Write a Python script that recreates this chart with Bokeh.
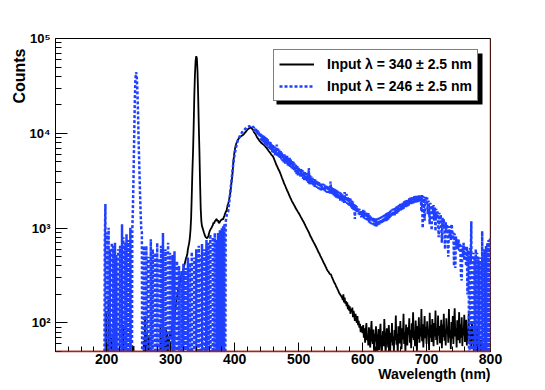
import numpy as np
from math import log10
from bokeh.plotting import figure
from bokeh.models import FixedTicker, Legend, LegendItem, Span, Title
from bokeh.embed import file_html
from bokeh.resources import INLINE

# ---------------- data (1 nm bins starting at WL_START) ----------------
WL_START = 190

black_340 = [
    1, 1, 1, 1, 1, 1, 1, 1, 1, 134,                      # 190
    1, 60, 1, 175, 1, 1, 90, 1, 70, 1,                    # 200
    1, 1, 118, 1, 1, 75, 1, 1, 1, 1,                      # 210
    1, 1, 1, 1, 1, 1, 95, 1, 1, 1,                        # 220
    1, 1, 1, 1, 1, 1, 1, 1, 1, 1,                         # 230
    1, 1, 57, 1, 1, 1, 1, 1, 1, 1,                        # 240
    1, 1, 1, 1, 1, 1, 1, 1, 65, 1,                        # 250
    118, 1, 1, 80, 1, 1, 72, 1, 1, 1,                     # 260
    1, 1, 1, 1, 1, 1, 1, 1, 1, 1,                         # 270
    1, 1, 1, 1, 98, 1, 70, 1, 1, 90,                      # 280
    1, 64, 1, 85, 1, 78, 1, 60, 70, 75,                   # 290
    82, 70, 95, 88, 110, 120, 105, 140, 150, 170,         # 300
    190, 200, 230, 220, 260, 280, 300, 320, 350, 340,     # 310
    370, 400, 420, 450, 480, 500, 530, 600, 650, 700,     # 320
    790, 950, 1280, 2200, 4000, 6400, 12000, 25000, 42000, 58000,   # 330
    65000, 62000, 45000, 25000, 12000, 6400, 3000, 1600, 1180, 1050,  # 340
    1000, 950, 900, 860, 820, 800, 790, 780, 800, 830,    # 350
    880, 930, 960, 990, 1010, 1050, 1080, 1150, 1120, 1180,  # 360
    1200, 1230, 1250, 1180, 1210, 1150, 1130, 1170, 1200, 1220,  # 370
    1230, 1250, 1230, 1300, 1350, 1420, 1480, 1510, 1600, 1750,  # 380
    1800, 1950, 2100, 2300, 2600, 3000, 3370, 4000, 5000, 5800,  # 390
    6500, 7100, 7600, 7900, 8200, 8500, 8700, 8900, 9100, 9200,  # 400
    9300, 9400, 9500, 9600, 9700, 9900, 10100, 10300, 10500, 10700,  # 410
    10900, 11100, 11200, 11300, 11400, 11500, 11400, 11200, 11000, 10800,  # 420
    10400, 10100, 10000, 9700, 9400, 9100, 8900, 8700, 8500, 8300,  # 430
    8200, 8000, 7900, 7800, 7700, 7600, 7500, 7400, 7250, 7100,  # 440
    7000, 6850, 6700, 6550, 6400, 6300, 6150, 6000, 5900, 5800,  # 450
    5700, 5500, 5300, 5100, 4900, 4700, 4550, 4400, 4250, 4100,  # 460
    4000, 3850, 3700, 3550, 3400, 3270, 3150, 3000, 2900, 2800,  # 470
    2700, 2600, 2500, 2420, 2340, 2250, 2180, 2100, 2030, 1960,  # 480
    1900, 1850, 1800, 1750, 1700, 1650, 1600, 1560, 1520, 1480,  # 490
    1450, 1410, 1370, 1330, 1290, 1260, 1220, 1190, 1160, 1120,  # 500
    1090, 1050, 1020, 990, 960, 930, 900, 870, 840, 810,  # 510
    790, 765, 740, 720, 700, 680, 660, 640, 620, 600,     # 520
    580, 560, 545, 530, 510, 495, 480, 465, 450, 435,     # 530
    420, 410, 395, 385, 370, 360, 350, 345, 335, 325,     # 540
    330, 320, 305, 295, 285, 275, 265, 260, 250, 240,     # 550
    235, 225, 220, 210, 205, 200, 195, 190, 185, 175,     # 560
    200, 165, 185, 160, 170, 150, 165, 140, 155, 135,     # 570
    150, 125, 140, 130, 145, 115, 134, 120, 105, 125,     # 580
    110, 100, 118, 95, 105, 89, 98, 80, 92, 85,           # 590
    78, 95, 70, 88, 62, 84, 100, 66, 75, 58,              # 600
    90, 72, 55, 80, 105, 68, 60, 85, 48, 77,              # 610
    64, 92, 58, 40, 70, 86, 52, 74, 98, 60,               # 620
    45, 66, 82, 57, 110, 70, 48, 62, 88, 76,              # 630
    55, 95, 68, 44, 79, 63, 100, 58, 72, 50,              # 640
    84, 66, 120, 59, 77, 46, 92, 70, 61, 105,             # 650
    74, 53, 88, 67, 125, 60, 80, 49, 96, 71,              # 660
    58, 90, 75, 112, 62, 84, 54, 99, 70, 130,             # 670
    66, 82, 57, 106, 76, 50, 93, 68, 115, 62,             # 680
    88, 72, 140, 64, 97, 55, 80, 118, 69, 91,             # 690
    60, 104, 75, 86, 52, 128, 70, 95, 63, 110,            # 700
    78, 57, 100, 72, 135, 66, 88, 59, 120, 74,            # 710
    93, 61, 81, 108, 54, 96, 71, 125, 65, 87,             # 720
    58, 112, 77, 91, 62, 140, 70, 84, 53, 102,            # 730
    68, 118, 60, 95, 143, 72, 88, 55, 107, 66,            # 740
    80, 130, 61, 97, 70, 115, 57, 89, 74, 122,            # 750
    63, 90, 108, 58, 84, 69, 126, 60, 93, 71,             # 760
    55, 100, 67, 82, 48, 95, 62, 76, 45, 88,              # 770
    58, 40, 72, 52, 35, 66, 44, 60, 30, 55,               # 780
    40, 62, 28, 50, 35, 45, 25, 38, 20, 30,               # 790
    25,                                                   # 800
]

blue_246 = [
    1, 1, 1, 1, 1, 1, 1, 700, 1800, 1,                    # 190
    1, 900, 1, 1010, 1, 600, 1, 1, 700, 1,                # 200
    650, 1, 1, 700, 1, 520, 1, 1, 600, 1,                 # 210
    1, 650, 1, 1, 1100, 1, 800, 1, 1, 700,                # 220
    1, 860, 1, 1, 750, 1, 1, 1010, 1, 1,                  # 230
    900, 1600, 3500, 9000, 22000, 38000, 44000, 40000, 28000, 16000,  # 240
    8000, 4500, 2500, 1500, 1000, 900, 1, 1, 650, 1,      # 250
    1, 1, 650, 1, 1, 500, 1, 1, 1, 765,                   # 260
    1, 1, 600, 1, 1, 1, 550, 1, 1, 700,                   # 270
    1, 1, 480, 1, 1, 650, 1, 1, 890, 1,                   # 280
    1, 1, 600, 1, 1, 1, 700, 1, 1, 550,                   # 290
    1, 1, 1, 520, 1, 1, 570, 1, 1, 1,                     # 300
    450, 1, 1, 400, 1, 1, 1, 350, 1, 1,                   # 310
    420, 1, 1, 380, 1, 1, 1, 490, 1, 1,                   # 320
    430, 1, 1, 560, 1, 1, 1, 490, 1, 1,                   # 330
    600, 1, 1, 1, 650, 1, 1, 520, 1, 680,                 # 340
    1, 1, 1, 600, 1, 1, 750, 1, 1, 700,                   # 350
    1, 1, 860, 1, 1, 1, 800, 1, 1, 890,                   # 360
    1, 1, 750, 1, 890, 1, 1, 950, 1, 1,                   # 370
    1000, 1, 1050, 1, 1100, 1, 1150, 1300, 1400, 1450,    # 380
    1500, 1750, 2000, 2300, 2700, 3100, 3600, 4200, 4800, 5400,  # 390
    6000, 6500, 7000, 7500, 8000, 8400, 8700, 9000, 9300, 9600,  # 400
    9900, 10100, 10300, 10500, 10700, 10900, 11000, 11200, 11300, 11500,  # 410
    11600, 11700, 11800, 11900, 11800, 12000, 12100, 12000, 11800, 11600,  # 420
    11600, 10500, 11400, 10200, 11200, 9800, 10900, 9500, 10400, 9300,  # 430
    10000, 8500, 9900, 8200, 9600, 8000, 9400, 7700, 9100, 7500,  # 440
    8900, 7300, 8700, 7000, 8400, 6800, 8100, 6600, 7700, 6300,   # 450
    7500, 6100, 7300, 5900, 7100, 6200, 7600, 5700, 6900, 5600,   # 460
    6700, 5500, 6500, 5300, 6300, 5100, 6100, 4900, 6000, 4800,   # 470
    5900, 4800, 5800, 4600, 5600, 4500, 5500, 4400, 5300, 4300,   # 480
    5200, 4200, 5000, 4000, 4800, 3900, 4700, 3700, 4500, 3600,   # 490
    4400, 3600, 4300, 3500, 4200, 3400, 4100, 3300, 4000, 3200,   # 500
    3900, 3200, 3800, 3100, 3700, 3000, 4300, 2900, 3600, 2900,   # 510
    3500, 2900, 3400, 2800, 3300, 2700, 3300, 2700, 3200, 2650,   # 520
    3150, 2600, 3100, 2550, 3000, 2500, 2950, 2500, 2950, 2450,   # 530
    2900, 2450, 2850, 2400, 2850, 2350, 2800, 2350, 2750, 2300,   # 540
    3100, 2300, 2700, 2250, 2650, 2200, 2600, 2150, 2550, 2100,   # 550
    2500, 2050, 2450, 2000, 2400, 1950, 2350, 1950, 2300, 1900,   # 560
    2250, 1850, 2400, 1850, 2200, 2300, 1800, 2150, 1750, 2100,   # 570
    1700, 2050, 1650, 1950, 1600, 1900, 1550, 1800, 1250, 1750,   # 580
    1500, 1700, 1450, 1650, 1400, 1600, 1350, 1550, 1300, 1500,   # 590
    1290, 1560, 1270, 1530, 1240, 1490, 1220, 1460, 1200, 1440,   # 600
    1140, 1370, 1120, 1340, 1100, 1320, 1090, 1300, 1070, 1280,   # 610
    1050, 1250, 1040, 1270, 1060, 1280, 1070, 1300, 1090, 1320,   # 620
    1110, 1340, 1130, 1370, 1150, 1400, 1170, 1430, 1200, 1460,   # 630
    1230, 1480, 1260, 1520, 1290, 1560, 1320, 1600, 1340, 1620,   # 640
    1350, 1640, 1390, 1690, 1420, 1720, 1460, 1760, 1500, 1800,   # 650
    1540, 1830, 1570, 1880, 1600, 1920, 1640, 1950, 1670, 1990,   # 660
    1700, 2020, 1730, 2060, 1760, 2100, 1790, 2130, 1810, 2150,   # 670
    1830, 2170, 1850, 2190, 1860, 2200, 1880, 2210, 1890, 2220,   # 680
    1900, 2200, 1500, 2230, 1000, 2180, 1880, 1200, 1850, 2150,   # 690
    1850, 2100, 1400, 1950, 1600, 1100, 1850, 1500, 950, 1750,    # 700
    1500, 1750, 1200, 1650, 930, 1600, 1300, 1500, 1250, 800,     # 710
    1450, 1150, 1400, 1100, 700, 1300, 1000, 1250, 950, 600,      # 720
    1150, 900, 1100, 850, 500, 1050, 820, 950, 750, 1100,         # 730
    980, 760, 900, 400, 880, 380, 820, 640, 760, 600,             # 740
    760, 580, 700, 560, 300, 280, 660, 500, 700, 460,             # 750
    650, 480, 400, 640, 200, 580, 450, 1, 620, 420,               # 760
    1180, 1, 500, 550, 1, 480, 1, 600, 1, 550,                   # 770
    1, 500, 1, 450, 1, 490, 1, 930, 1, 520,                      # 780
    1, 600, 1, 650, 1, 700, 1, 750, 1, 790,                      # 790
    700,                                                         # 800
]

x_ticks = [200, 300, 400, 500, 600, 700, 800]
y_ticks = [100, 1000, 10000, 100000]
y_tick_labels = ["10²", "10³", "10⁴", "10⁵"]
legend_labels = ["Input λ = 340 ± 2.5 nm", "Input λ = 246 ± 2.5 nm"]
x_title = "Wavelength (nm)"
y_title = "Counts"

# ---------------- styling ----------------
X0, X1 = 120, 800
Y0, Y1 = 50, 1e5
FONT = "Liberation Sans"
BLUE = "#2040ff"
FRAME_RED = "#9a2a1e"

# frame in page pixels: left 55, right 490, top 38, bottom 351
FL, FR, FT, FB = 55, 490, 38, 351
W, H = 545, 390


def xdata(px):
    return X0 + (px - FL) * (X1 - X0) / (FR - FL)


def ydata(py):
    return 10 ** (log10(Y0) + (FB - py) * (log10(Y1) - log10(Y0)) / (FB - FT))


p = figure(width=W, height=H, x_range=(X0, X1), y_range=(Y0, Y1),
           y_axis_type="log", output_backend="svg", toolbar_location=None,
           title=None, min_border_left=FL, min_border_right=W - FR,
           min_border_top=FT, min_border_bottom=H - FB)
p.background_fill_color = "white"
p.border_fill_color = "white"
p.outline_line_color = "black"
p.outline_line_width = 1
p.xgrid.visible = False
p.ygrid.visible = False

# legend shadow (drawn under the legend box)
p.quad(left=xdata(276), right=xdata(482), top=ydata(53), bottom=ydata(104),
       fill_color="black", line_color=None)

wl_black = WL_START + np.arange(len(black_340))
wl_blue = WL_START + np.arange(len(blue_246))
r_black = p.line(wl_black, black_340, line_color="black", line_width=1.8)
r_blue = p.line(wl_blue, blue_246, line_color=BLUE, line_width=2.5,
                line_dash="3 2")

# axes
p.xaxis.ticker = FixedTicker(ticks=x_ticks, minor_ticks=list(range(120, 801, 20)))
p.yaxis.ticker = FixedTicker(ticks=y_ticks,
                             minor_ticks=[m * 10 ** e for e in range(1, 5) for m in range(2, 10)])
p.yaxis.major_label_overrides = {float(t): l for t, l in zip(y_ticks, y_tick_labels)}

for ax in (p.xaxis[0], p.yaxis[0]):
    ax.major_tick_out = 0
    ax.minor_tick_out = 0
    ax.major_tick_line_color = "black"
    ax.minor_tick_line_color = "black"
    ax.major_label_text_font = FONT
    ax.major_label_text_font_style = "bold"
    ax.major_label_text_color = "black"

p.xaxis.major_label_text_font_size = "14px"
p.yaxis.major_label_text_font_size = "13px"
p.xaxis.major_tick_in = 9
p.xaxis.minor_tick_in = 5
p.xaxis.major_label_standoff = 2
p.xaxis.axis_line_color = FRAME_RED
p.xaxis.axis_line_width = 1.5
p.yaxis.major_tick_in = 12
p.yaxis.minor_tick_in = 6
p.yaxis.major_label_standoff = 5
p.yaxis.axis_line_color = "black"

p.add_layout(Span(location=X1, dimension="height", line_color=FRAME_RED, line_width=1.5))
p.add_layout(Span(location=Y0, dimension="width", line_color=FRAME_RED, line_width=1.5))

# axis titles (ROOT style: at the far end of each axis)
p.add_layout(Title(text=x_title, align="right", vertical_align="top", standoff=-2,
                   text_font=FONT, text_font_style="bold", text_font_size="14px",
                   text_color="black"), "below")
p.add_layout(Title(text=y_title, align="right", vertical_align="bottom", standoff=-3,
                   offset=10, text_font=FONT, text_font_style="bold",
                   text_font_size="16px", text_color="black"), "left")

legend = Legend(items=[LegendItem(label=legend_labels[0], renderers=[r_black]),
                       LegendItem(label=legend_labels[1], renderers=[r_blue])],
                location=(218, 250), margin=0, padding=5, spacing=4,
                glyph_width=35, glyph_height=18, label_height=18, label_standoff=13,
                label_text_font=FONT, label_text_font_style="bold",
                label_text_font_size="14px", label_text_color="black",
                border_line_color="black", border_line_width=1,
                background_fill_color="white", background_fill_alpha=1.0)
p.add_layout(legend)

html = file_html(p, INLINE, "Spectrum")
with open("out.html", "w", encoding="utf-8") as f:
    f.write(html)
